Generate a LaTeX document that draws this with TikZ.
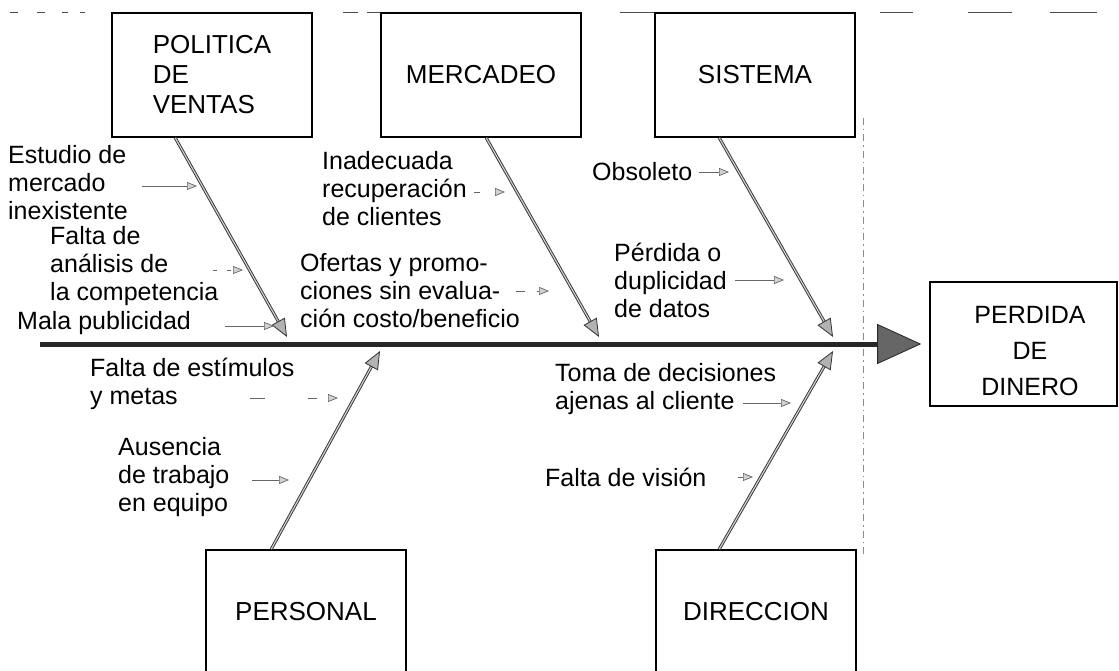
\documentclass[tikz,border=0pt]{standalone}
\usepackage{fontspec}
\setmainfont{Liberation Sans}
\usetikzlibrary{arrows.meta}
\begin{document}
\begin{tikzpicture}[x=1pt,y=-1pt,
  box/.style={draw=black, line width=1.6pt, minimum width=200pt, minimum height=124pt,
    inner sep=0pt, align=left, font=\fontsize{26}{30}\selectfont},
  lbl/.style={anchor=west, inner sep=0pt, align=left, font=\fontsize{25}{28}\selectfont},
  bone/.style={draw=black!80, double=gray!40, double distance=1.2pt, line width=0.9pt,
    -{Triangle[length=18pt,width=15pt,fill=gray!60,line width=0.8pt]}},
  spine/.style={draw=black!85, line width=5pt,
    -{Triangle[length=44pt,width=40pt,fill=black!60,line width=0.8pt]}},
  sub/.style={draw=black!60, line width=0.9pt,
    -{Triangle[length=10pt,width=8pt,fill=gray!35,line width=0.7pt]}},
  topdash/.style={draw=black!70, line width=1pt},
  guide/.style={draw=black!45, line width=0.8pt, dash pattern=on 7pt off 4pt on 1.5pt off 4pt}
]
\useasboundingbox (0,0) rectangle (1119,671);
\clip (0,0) rectangle (1119,671);

% top dashed line segments
\draw[topdash] (10,13) -- (18,13) (37,13) -- (45,13) (62,13) -- (68,13) (80,13) -- (85,13)
  (343,13) -- (358,13) (367,13) -- (383,13) (620,13) -- (655,13)
  (880,13) -- (913,13) (968,13) -- (1012,13) (1050,13) -- (1097,13);
% vertical guide
\coordinate (g1) at (863,118);
\coordinate (g2) at (863,557);
\draw[guide] (g1) -- (g2);

% boxes
\node[box] (pol) at (212,75) {POLITICA\\DE\\VENTAS};
\node[box] (mer) at (481,75) {MERCADEO};
\node[box] (sis) at (755,75) {SISTEMA};
\node[box] (pers) at (306,612) {PERSONAL};
\node[box] (dir) at (756,612) {DIRECCION};
\node[box, minimum width=187pt] (eff) at (1023.5,344) {};
\node[inner sep=0pt, align=center, font=\fontsize{25}{36}\selectfont] (efft) at (1030,351) {PERDIDA\\DE\\DINERO};

% spine
\coordinate (sp0) at (40,344);
\draw[spine] (sp0) -- ([xshift=-8pt]eff.west);

% bones
\coordinate (polt) at (287,337);
\coordinate (mert) at (599,337);
\coordinate (sist) at (833,337);
\coordinate (perst) at (380,351);
\coordinate (dirt) at (833,351);
\draw[bone] ([xshift=64pt]pol.south west) -- (polt);
\draw[bone] ([xshift=106pt]mer.south west) -- (mert);
\draw[bone] ([xshift=65pt]sis.south west) -- (sist);
\draw[bone] ([xshift=66pt]pers.north west) -- (perst);
\draw[bone] ([xshift=64pt]dir.north west) -- (dirt);

% labels
\node[lbl] (est) at (8,183) {Estudio de\\mercado\\inexistente};
\node[lbl] (ana) at (50,266) {Falta de\\análisis de\\la competencia};
\node[lbl] (mala) at (17,323) {Mala publicidad};
\node[lbl] (estim) at (90,384) {Falta de estímulos\\y metas};
\node[lbl] (aus) at (118,477) {Ausencia\\de trabajo\\en equipo};
\node[lbl] (inad) at (322,189) {Inadecuada\\recuperación\\de clientes};
\node[lbl] (ofer) at (300,291) {Ofertas y promo-\\ciones sin evalua-\\ción costo/beneficio};
\node[lbl] (obs) at (592,172) {Obsoleto};
\node[lbl] (perd) at (614,280) {Pérdida o\\duplicidad\\de datos};
\node[lbl] (toma) at (555,389) {Toma de decisiones\\ajenas al cliente};
\node[lbl] (vis) at (545,477) {Falta de visión};

% sub-cause arrows
\coordinate (a1s) at (142,186); \coordinate (a1e) at (197,186);
\coordinate (a2s) at (213,270); \coordinate (a2e) at (243,270);
\coordinate (a3s) at (225,326); \coordinate (a3e) at (274,326);
\coordinate (a4s) at (250,398); \coordinate (a4e) at (338,398);
\coordinate (a5s) at (252,480); \coordinate (a5e) at (289,480);
\coordinate (a6s) at (474,192); \coordinate (a6e) at (505,192);
\coordinate (a7s) at (516,291); \coordinate (a7e) at (549,291);
\coordinate (a8s) at (699,172); \coordinate (a8e) at (729,172);
\coordinate (a9s) at (735,280); \coordinate (a9e) at (784,280);
\coordinate (a10s) at (743,403); \coordinate (a10e) at (791,403);
\coordinate (a11s) at (738,477); \coordinate (a11e) at (753,477);
\draw[sub] (a1s) -- (a1e);
\draw[sub, dash pattern=on 4pt off 10pt] (a2s) -- (a2e);
\draw[sub] (a3s) -- (a3e);
\draw[sub, dash pattern=on 15pt off 43pt on 9pt off 20pt] (a4s) -- (a4e);
\draw[sub] (a5s) -- (a5e);
\draw[sub, dash pattern=on 6pt off 15pt] (a6s) -- (a6e);
\draw[sub, dash pattern=on 9pt off 12pt] (a7s) -- (a7e);
\draw[sub] (a8s) -- (a8e);
\draw[sub] (a9s) -- (a9e);
\draw[sub] (a10s) -- (a10e);
\draw[sub] (a11s) -- (a11e);
\end{tikzpicture}
\end{document}
